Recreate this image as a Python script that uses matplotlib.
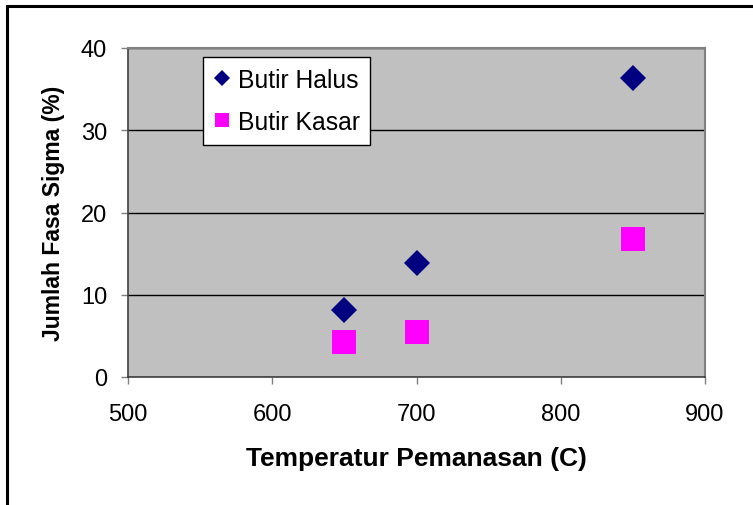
import matplotlib
matplotlib.use('Agg')
import matplotlib.pyplot as plt
from matplotlib.patches import Rectangle

plt.rcParams['font.family'] = ['Liberation Sans', 'DejaVu Sans']

# temperatur pemanasan (C) dan jumlah fasa sigma (%)
suhu = [650, 700, 850]
halus = [8.2, 13.9, 36.4]
kasar = [4.2, 5.5, 16.8]

x_ticks = [500, 600, 700, 800, 900]
y_ticks = [0, 10, 20, 30, 40]

fig = plt.figure(figsize=(7.53, 5.06), dpi=100)
ax = fig.add_axes([128 / 753, 1 - 378 / 506, 577 / 753, 329 / 506])
ax.set_facecolor('#C0C0C0')

# bingkai luar
fig.patches.append(Rectangle((7 / 753, -0.1), 1.2, 1 - 7 / 506 + 0.1,
                             transform=fig.transFigure, fill=False,
                             edgecolor='black', linewidth=2.2, zorder=0))

ax.yaxis.grid(True, color='black', linewidth=1.0)
ax.set_axisbelow(True)

ax.plot(suhu, halus, linestyle='none', marker='D', markersize=13,
        color='#000080', markeredgewidth=0, label='Butir Halus', zorder=3)
ax.plot(suhu, kasar, linestyle='none', marker='s', markersize=17,
        color='#FF00FF', markeredgewidth=0, label='Butir Kasar', zorder=3)

ax.set_xlim(500, 900)
ax.set_ylim(0, 40)
ax.set_xticks(x_ticks)
ax.set_yticks(y_ticks)
ax.tick_params(axis='both', labelsize=17, direction='out', length=5,
               width=1, color='#808080')
ax.tick_params(axis='x', pad=14)
ax.tick_params(axis='y', pad=10)

for side in ['top', 'right']:
    ax.spines[side].set_color('#808080')
    ax.spines[side].set_linewidth(1.5)
for side in ['left', 'bottom']:
    ax.spines[side].set_color('#404040')
    ax.spines[side].set_linewidth(1.2)

ax.set_xlabel('Temperatur Pemanasan (C)', fontsize=19, fontweight='bold')
ax.set_ylabel('Jumlah Fasa Sigma (%)', fontsize=16.5, fontweight='bold')
ax.xaxis.set_label_coords(0.5, -0.21)
ax.yaxis.set_label_coords(-0.11, 0.5)

leg = ax.legend(loc='upper left', bbox_to_anchor=(75 / 577, 1 - 9 / 329),
                fontsize=17.8, frameon=True, fancybox=False, framealpha=1,
                edgecolor='black', markerscale=0.62, handlelength=0.7,
                handletextpad=0.28, borderpad=0.43, labelspacing=0.74,
                borderaxespad=0)
leg.get_frame().set_linewidth(1)

fig.savefig('out.png', dpi=100, facecolor='white')
